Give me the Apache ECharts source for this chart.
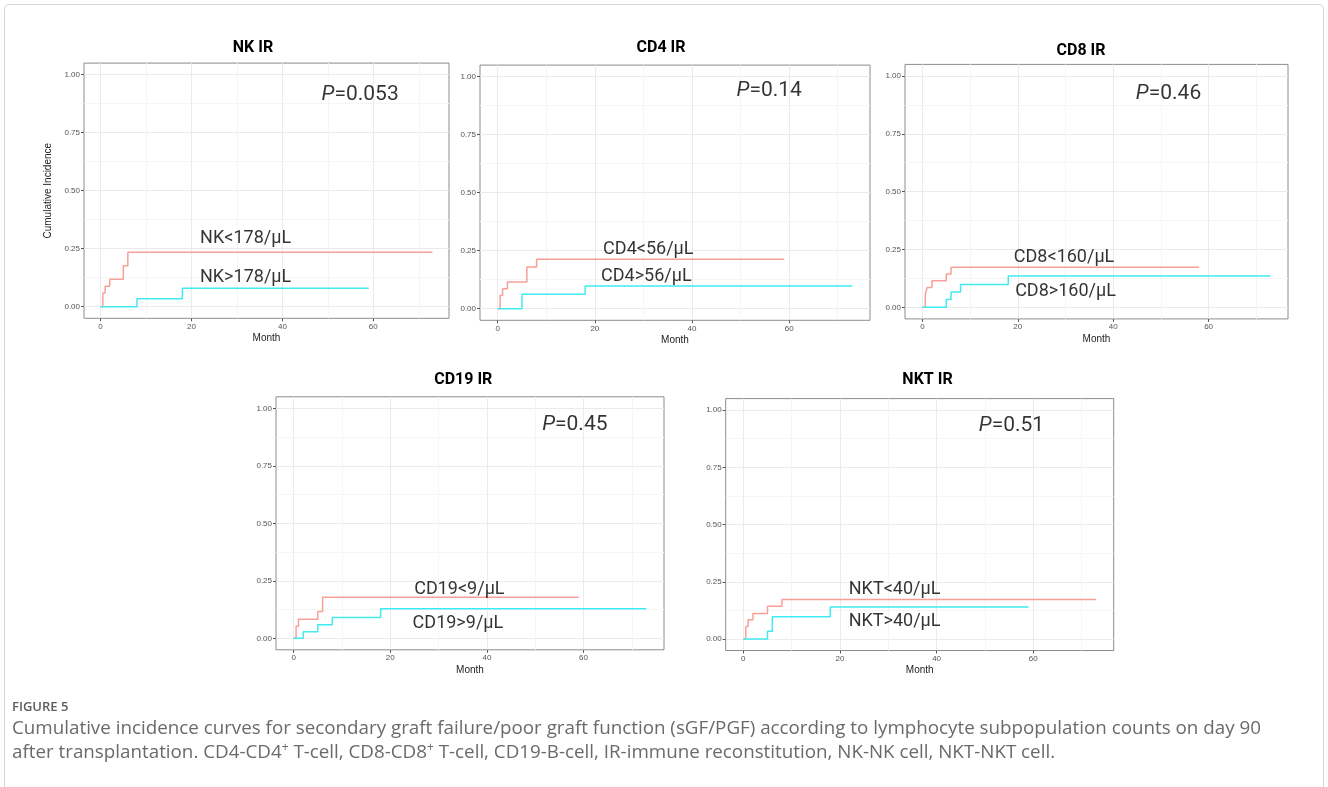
<!DOCTYPE html>
<html>
<head>
<meta charset="utf-8">
<script src="https://cdn.jsdelivr.net/npm/echarts@6/dist/echarts.min.js"></script>
<style>
html,body{margin:0;padding:0;background:#fff;}
#chart{width:1328px;height:787px;}
</style>
</head>
<body>
<div id="chart"></div>
<script>
// ---------- data ----------
const panelTitles = ['NK IR', 'CD4 IR', 'CD8 IR', 'CD19 IR', 'NKT IR'];
const pValues = ['0.053', '0.14', '0.46', '0.45', '0.51'];
const lowLabels = ['NK<178/μL', 'CD4<56/μL', 'CD8<160/μL', 'CD19<9/μL', 'NKT<40/μL'];
const highLabels = ['NK>178/μL', 'CD4>56/μL', 'CD8>160/μL', 'CD19>9/μL', 'NKT>40/μL'];

const xTicks = [0, 20, 40, 60];
const xMinorTicks = [10, 30, 50, 70];
const yTicks = [0, 0.25, 0.5, 0.75, 1];
const yMinorTicks = [0.125, 0.375, 0.625, 0.875];

const nkLowMonth = [0, 0.5, 1, 2, 5, 6, 73];
const nkLowInc = [0, 0.059, 0.088, 0.118, 0.176, 0.235, 0.235];
const nkHighMonth = [0, 8, 18, 59];
const nkHighInc = [0, 0.034, 0.079, 0.079];

const cd4LowMonth = [0, 0.5, 1, 2, 6, 8, 59];
const cd4LowInc = [0, 0.057, 0.086, 0.115, 0.18, 0.213, 0.213];
const cd4HighMonth = [0, 5, 18, 73];
const cd4HighInc = [0, 0.062, 0.098, 0.098];

const cd8LowMonth = [0, 0.6, 1, 2, 5, 6, 58];
const cd8LowInc = [0, 0.057, 0.086, 0.115, 0.144, 0.173, 0.173];
const cd8HighMonth = [0, 5, 6, 8, 18, 73];
const cd8HighInc = [0, 0.034, 0.066, 0.099, 0.135, 0.135];

const cd19LowMonth = [0, 0.5, 1, 5, 6, 59];
const cd19LowInc = [0, 0.052, 0.083, 0.116, 0.179, 0.179];
const cd19HighMonth = [0, 2, 5, 8, 18, 73];
const cd19HighInc = [0, 0.029, 0.059, 0.09, 0.129, 0.129];

const nktLowMonth = [0, 0.5, 1, 2, 5, 8, 73];
const nktLowInc = [0, 0.055, 0.084, 0.112, 0.143, 0.173, 0.173];
const nktHighMonth = [0, 5, 6, 18, 59];
const nktHighInc = [0, 0.034, 0.097, 0.14, 0.14];

const lowMonths = [nkLowMonth, cd4LowMonth, cd8LowMonth, cd19LowMonth, nktLowMonth];
const lowIncs = [nkLowInc, cd4LowInc, cd8LowInc, cd19LowInc, nktLowInc];
const highMonths = [nkHighMonth, cd4HighMonth, cd8HighMonth, cd19HighMonth, nktHighMonth];
const highIncs = [nkHighInc, cd4HighInc, cd8HighInc, cd19HighInc, nktHighInc];

// ---------- layout (annotation anchors in data units) ----------
const layout = {
  grids: [
    {left: 84, top: 63.1, width: 365, height: 255.2},
    {left: 480, top: 65.1, width: 390, height: 255.2},
    {left: 905, top: 64.4, width: 383, height: 254.5},
    {left: 276, top: 396.8, width: 388, height: 253},
    {left: 725.7, top: 398.6, width: 388, height: 251.9}
  ],
  titles: [[253, 47.5], [661, 48], [1081, 50.8], [463.3, 379.5], [927.5, 380]],
  pAt: [[57.1, 0.913], [55.9, 0.939], [51.6, 0.921], [58.2, 0.927], [55.5, 0.931]],
  lowAt: [[31.9, 0.295], [31.0, 0.257], [29.7, 0.214], [34.3, 0.214], [31.3, 0.216]],
  highAt: [[31.9, 0.127], [30.6, 0.140], [30.0, 0.070], [34.0, 0.066], [31.3, 0.076]]
};

const RED = '#F7A097';
const CYAN = '#40EAF1';
const axisFont = 'Liberation Sans, Arial, sans-serif';
const annFont = 'Roboto, sans-serif';

const grid = [], xAxis = [], yAxis = [], series = [];
const N = panelTitles.length;

layout.grids.forEach(function (g) {
  grid.push({left: g.left, top: g.top, width: g.width, height: g.height, containLabel: false,
    show: true, borderColor: '#8c8c8c', borderWidth: 1, backgroundColor: '#fff'});
});

for (let i = 0; i < N; i++) {
  xAxis.push({
    type: 'value', gridIndex: i, min: -3.65, max: 76.65, position: 'bottom',
    axisLine: {show: false, onZero: false},
    axisTick: {show: true, length: 3, customValues: xTicks, lineStyle: {color: '#555', width: 1}},
    axisLabel: {customValues: xTicks, color: '#555', fontSize: 8, margin: 4, fontFamily: axisFont},
    splitLine: {show: true, lineStyle: {color: '#ebebeb', width: 1}},
    name: 'Month', nameLocation: 'middle', nameGap: 15,
    nameTextStyle: {color: '#222', fontSize: 10, fontFamily: axisFont}
  });
  yAxis.push({
    type: 'value', gridIndex: i, min: -0.05, max: 1.05, position: 'left',
    axisLine: {show: false, onZero: false},
    axisTick: {show: true, length: 3, customValues: yTicks, lineStyle: {color: '#555', width: 1}},
    axisLabel: {customValues: yTicks, color: '#555', fontSize: 8, margin: 4, fontFamily: axisFont,
      formatter: function (v) { return v.toFixed(2); }},
    splitLine: {show: true, lineStyle: {color: '#ebebeb', width: 1}},
    name: i === 0 ? 'Cumulative Incidence' : '', nameLocation: 'middle', nameGap: 31,
    nameTextStyle: {color: '#222', fontSize: 10, fontFamily: axisFont}
  });
}
for (let i = 0; i < N; i++) {
  xAxis.push({
    type: 'value', gridIndex: i, min: -3.65, max: 76.65, position: 'bottom',
    axisLine: {show: false, onZero: false}, axisLabel: {show: false},
    axisTick: {show: false, customValues: xMinorTicks},
    splitLine: {show: true, lineStyle: {color: '#f5f5f5', width: 1}}
  });
  yAxis.push({
    type: 'value', gridIndex: i, min: -0.05, max: 1.05, position: 'left',
    axisLine: {show: false, onZero: false}, axisLabel: {show: false},
    axisTick: {show: false, customValues: yMinorTicks},
    splitLine: {show: true, lineStyle: {color: '#f5f5f5', width: 1}}
  });
}

function zip(a, b) { return a.map(function (v, k) { return [v, b[k]]; }); }

for (let i = 0; i < N; i++) {
  series.push({
    type: 'line', step: 'end', xAxisIndex: i, yAxisIndex: i, symbol: 'none', z: 3,
    data: zip(lowMonths[i], lowIncs[i]), lineStyle: {color: RED, width: 1.5}
  });
  series.push({
    type: 'line', step: 'end', xAxisIndex: i, yAxisIndex: i, symbol: 'none', z: 4,
    data: zip(highMonths[i], highIncs[i]), lineStyle: {color: CYAN, width: 1.5}
  });
  const annData = [
    {value: layout.pAt[i], label: {formatter: '{i|P}=' + pValues[i], fontSize: 21,
      rich: {i: {fontStyle: 'italic', fontSize: 21, fontFamily: annFont, color: '#000'}}}},
    {value: layout.lowAt[i], label: {formatter: lowLabels[i]}},
    {value: layout.highAt[i], label: {formatter: highLabels[i]}}
  ];
  series.push({
    type: 'scatter', xAxisIndex: i, yAxisIndex: i, symbolSize: 1, z: 5,
    itemStyle: {color: 'rgba(0,0,0,0)'}, silent: true,
    label: {show: true, position: 'inside', color: '#000', fontSize: 18, fontFamily: annFont},
    data: annData
  });
}

const graphic = [
  {type: 'rect', shape: {x: 4.5, y: 4.5, width: 1319, height: 800, r: 4},
    style: {fill: 'none', stroke: '#d6d6d6', lineWidth: 1}, z: -1}
];
panelTitles.forEach(function (t, i) {
  graphic.push({type: 'text', x: layout.titles[i][0], y: layout.titles[i][1],
    style: {text: t, fill: '#000', font: 'bold 16px Roboto, sans-serif',
      textAlign: 'center', textVerticalAlign: 'middle', align: 'center', verticalAlign: 'middle'}});
});
graphic.push({type: 'text', x: 12, y: 707.5,
  style: {text: 'FIGURE 5', fill: '#5c5c5c', font: '600 13px "Open Sans", sans-serif',
    textAlign: 'left', textVerticalAlign: 'middle', align: 'left', verticalAlign: 'middle'}});
graphic.push({type: 'text', x: 12, y: 729,
  style: {text: 'Cumulative incidence curves for secondary graft failure/poor graft function (sGF/PGF) according to lymphocyte subpopulation counts on day 90',
    fill: '#6a6a6a', font: '18.8px "Open Sans", sans-serif',
    textAlign: 'left', textVerticalAlign: 'middle', align: 'left', verticalAlign: 'middle'}});
graphic.push({type: 'text', x: 12, y: 753,
  style: {text: 'after transplantation. CD4-CD4{s|+} T-cell, CD8-CD8{s|+} T-cell, CD19-B-cell, IR-immune reconstitution, NK-NK cell, NKT-NKT cell.',
    fill: '#6a6a6a', fontSize: 18.8, fontFamily: '"Open Sans", sans-serif',
    rich: {s: {fontSize: 12, fill: '#6a6a6a', fontFamily: '"Open Sans", sans-serif', verticalAlign: 'top', lineHeight: 22}},
    textAlign: 'left', textVerticalAlign: 'middle', align: 'left', verticalAlign: 'middle'}});

const chart = echarts.init(document.getElementById('chart'), null, {renderer: 'canvas'});
chart.setOption({
  animation: false,
  backgroundColor: '#fff',
  grid: grid, xAxis: xAxis, yAxis: yAxis, series: series, graphic: graphic
});
</script>
</body>
</html>
